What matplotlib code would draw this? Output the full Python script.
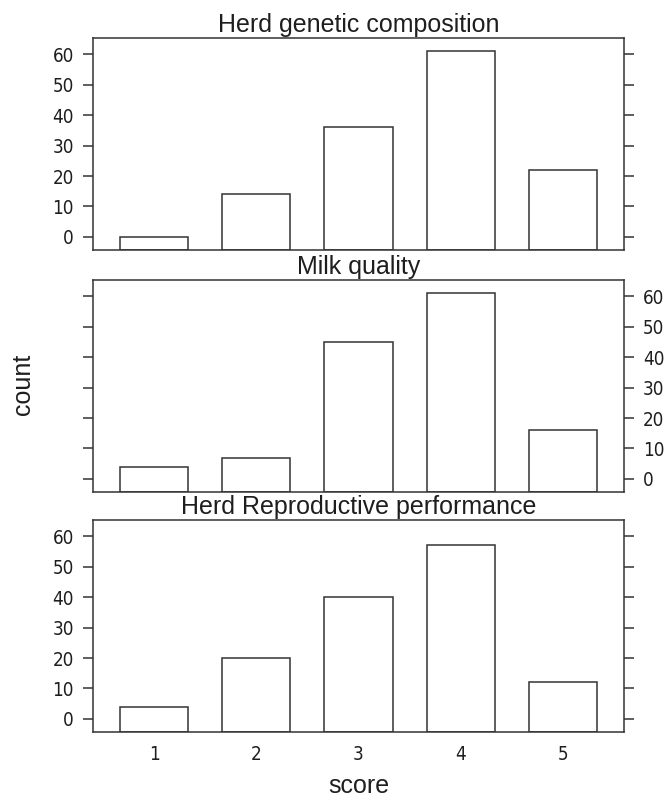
import matplotlib
matplotlib.use("Agg")
import matplotlib.pyplot as plt
from matplotlib import font_manager
from matplotlib.font_manager import FontProperties

# Score categories and counts per panel
scores = [1, 2, 3, 4, 5]
panel_titles = ["Herd genetic composition", "Milk quality", "Herd Reproductive performance"]
genetic_counts = [0, 14, 36, 61, 22]
milk_counts = [4, 7, 45, 61, 16]
reproductive_counts = [4, 20, 40, 57, 12]
y_ticks = [0, 10, 20, 30, 40, 50, 60]

panel_counts = [genetic_counts, milk_counts, reproductive_counts]


def narrow_font():
    """Pick a condensed sans face for the tick numbers, if one is installed."""
    entries = font_manager.fontManager.ttflist
    prefs = [
        lambda f: "Liberation Sans Narrow" in f.name and f.weight in (400, "normal") and f.style == "normal",
        lambda f: f.name == "DejaVu Sans" and "condensed" in str(f.stretch).lower() and f.style == "normal" and f.weight in (400, "normal"),
        lambda f: "Condensed" in f.name and f.style == "normal",
        lambda f: "Narrow" in f.name and f.style == "normal",
    ]
    for test in prefs:
        for f in entries:
            try:
                if test(f):
                    return FontProperties(fname=f.fname)
            except Exception:
                pass
    return None


plt.rcParams["font.family"] = ["Liberation Sans", "DejaVu Sans"]
tick_fp = narrow_font()

W, H = 664, 800
fig = plt.figure(figsize=(W / 100, H / 100), dpi=100)

line_col = "#333333"
text_col = "#1e1e1e"
lw = 1.1

# panel boxes in pixel coordinates
left_px, right_px = 93, 624
tops = [38, 280, 520]
box_h = 212

all_max = max(max(c) for c in panel_counts)
pad = 0.07 * all_max
ylim = (0 - pad, all_max + pad)

tick_size = 13.5 if tick_fp is not None else 12.5


def style_labels(labels):
    for lab in labels:
        if tick_fp is not None:
            lab.set_fontproperties(tick_fp)
        lab.set_fontsize(tick_size)
        lab.set_color(text_col)


for i, (title, counts) in enumerate(zip(panel_titles, panel_counts)):
    top = tops[i]
    ax = fig.add_axes([left_px / W, 1 - (top + box_h) / H,
                       (right_px - left_px) / W, box_h / H])
    # bars rise from the lower edge of the panel, as in lattice's barchart
    base = ylim[0]
    ax.bar(scores, [c - base for c in counts], width=2 / 3, bottom=base,
           color="white", edgecolor=line_col, linewidth=lw)
    ax.set_xlim(0.4, 5.6)
    ax.set_ylim(*ylim)
    for s in ax.spines.values():
        s.set_color(line_col)
        s.set_linewidth(lw)
        s.set_zorder(3)
    ax.set_yticks(y_ticks)
    ax.tick_params(axis="y", which="both", direction="out", length=7.2,
                   width=lw, color=line_col, pad=6.5, left=True, right=True)
    if i == 1:
        ax.tick_params(axis="y", labelleft=False, labelright=True)
        for t in ax.yaxis.get_major_ticks():
            style_labels([t.label2])
    else:
        ax.tick_params(axis="y", labelleft=True, labelright=False)
        for t in ax.yaxis.get_major_ticks():
            style_labels([t.label1])
    if i == 2:
        ax.set_xticks(scores)
        ax.set_xticklabels([str(s) for s in scores])
        ax.tick_params(axis="x", length=0, pad=9)
        style_labels(ax.get_xticklabels())
    else:
        ax.set_xticks([])
    ax.set_title(title, fontsize=18, color=text_col, pad=4.5)

fig.text(23 / W, 1 - 384 / H, "count", rotation=90, ha="center", va="center",
         fontsize=18, color=text_col)
fig.text((left_px + right_px) / 2 / W, 1 - 786 / H, "score", ha="center",
         va="center", fontsize=18, color=text_col)

fig.savefig("out.png", dpi=100)
